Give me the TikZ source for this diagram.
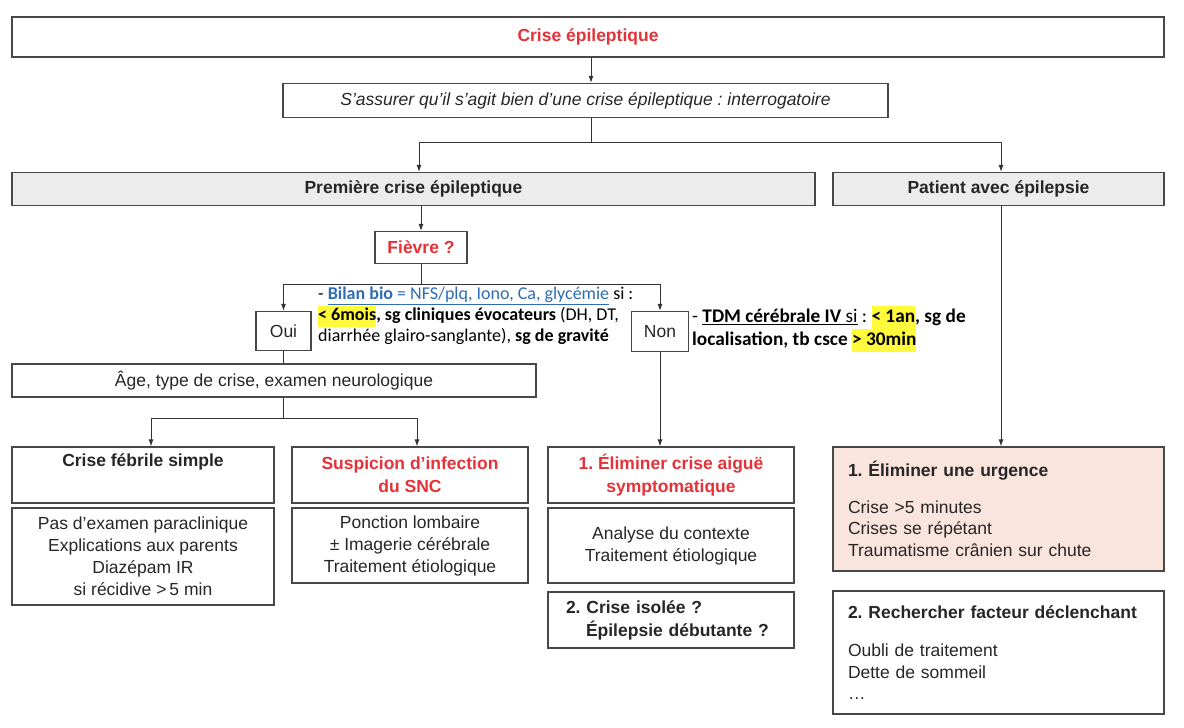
\documentclass[tikz,border=0pt]{standalone}
\usepackage{fontspec}
\setmainfont{Liberation Sans}
\newfontfamily\calib{Carlito}
\usetikzlibrary{arrows.meta}
\frenchspacing

\definecolor{redtxt}{RGB}{228,50,56}
\definecolor{hdrgray}{RGB}{236,236,236}
\definecolor{pinkfill}{RGB}{250,228,222}
\definecolor{boxline}{RGB}{72,72,72}
\definecolor{linkblue}{RGB}{46,108,180}
\definecolor{hilite}{RGB}{255,250,60}
\newcommand{\hl}[1]{{\setlength{\fboxsep}{0pt}\colorbox{hilite}{\strut #1}}}

\tikzset{
  box/.style={draw=boxline, line width=1.3pt, align=center, inner sep=0pt,
    font=\fontsize{17.5}{22}\selectfont, text=black!85},
  hdr/.style={box, fill=hdrgray, font=\bfseries\fontsize{17.5}{22}\selectfont},
  redt/.style={text=redtxt, font=\bfseries\fontsize{17.5}{23}\selectfont},
  line/.style={draw=black!80, line width=0.9pt},
  arr/.style={line, -{Latex[length=7pt,width=5pt]}},
}

\begin{document}
\begin{tikzpicture}[x=1pt,y=-1pt]
\useasboundingbox (0,0) rectangle (1184,728);

% boxes
\node[box, line width=2pt, redt, minimum width=1152, minimum height=40] (top) at (588,37) {Crise épileptique};
\node[box, font=\itshape\fontsize{17.5}{22}\selectfont, minimum width=605, minimum height=34] (assure) at (585.5,100.5) {S'assurer qu'il s'agit bien d'une crise épileptique : interrogatoire};
\node[hdr, minimum width=803, minimum height=33] (prem) at (413.5,189) {Première crise épileptique};
\node[hdr, minimum width=331, minimum height=33] (patient) at (998.5,189) {Patient avec épilepsie};
\node[box, redt, minimum width=92, minimum height=32] (fievre) at (421,247.5) {Fièvre ?};
\node[box, minimum width=55, minimum height=39] (oui) at (283.5,331) {Oui};
\node[box, minimum width=57, minimum height=40] (non) at (660,331.5) {Non};
\node[box, minimum width=524, minimum height=33] (age) at (274,380.5) {Âge, type de crise, examen neurologique};

\node[box, font=\bfseries\fontsize{17.5}{23}\selectfont, minimum width=262, minimum height=56] (cfs) at (143,475) {Crise fébrile simple\\\strut};
\node[box, minimum width=262, minimum height=97] (pas) at (143,556.5) {Pas d'examen paraclinique\\Explications aux parents\\Diazépam IR\\si récidive >\,5 min};
\node[box, redt, minimum width=236, minimum height=56] (susp) at (410,475) {Suspicion d'infection\\du SNC};
\node[box, minimum width=236, minimum height=75] (ponc) at (410,545.5) {Ponction lombaire\\± Imagerie cérébrale\\Traitement étiologique};
\node[box, redt, minimum width=246, minimum height=56] (elim) at (671,475) {1. Éliminer crise aiguë\\symptomatique};
\node[box, minimum width=246, minimum height=75] (anal) at (671,545.5) {Analyse du contexte\\Traitement étiologique};
\node[box, font=\bfseries\fontsize{17.5}{23}\selectfont, align=left, text width=210, minimum width=246, minimum height=56] (isol) at (671,620) {2. Crise isolée ?\\\hspace*{20pt}Épilepsie débutante ?};

\node[box, fill=pinkfill, align=left, text width=301, minimum width=331, minimum height=124, font=\fontsize{17.5}{21.5}\selectfont] (urg) at (998.5,509) {{\bfseries 1. Éliminer une urgence}\\[15pt]Crise >5 minutes\\Crises se répétant\\Traumatisme crânien sur chute};
\node[box, align=left, text width=301, minimum width=331, minimum height=123, font=\fontsize{17.5}{21.5}\selectfont] (rech) at (998.5,652.5) {{\bfseries 2. Rechercher facteur déclenchant}\\[17pt]Oubli de traitement\\Dette de sommeil\\\ldots};

% annotations
\node[anchor=north west, align=left, inner sep=0pt, font=\calib\fontsize{18}{21}\selectfont] (bilan) at (318,287) {- \textcolor{linkblue}{\underline{\textbf{Bilan bio} = NFS/plq, Iono, Ca, glycémie}} si :\\\hl{\textbf{< 6mois}}\textbf{, sg cliniques évocateurs} (DH, DT,\\diarrhée glairo-sanglante), \textbf{sg de gravité}};
\node[anchor=north west, align=left, inner sep=0pt, font=\calib\bfseries\fontsize{19.3}{23}\selectfont] (tdm) at (692,306) {{\mdseries -} \underline{TDM cérébrale IV {\mdseries si}}{\mdseries\ :} \hl{< 1an}, sg de\\localisation, tb csce \hl{> 30min}};

% connectors
\coordinate (j1) at (591,142);
\coordinate (jl) at (419,142);
\coordinate (jr) at (1001,142);
\coordinate (j2) at (421,284);
\coordinate (a1) at (151,418);
\coordinate (a2) at (417,418);
\draw[arr] (top.south -| j1) -- (assure.north -| j1);
\draw[line] (assure.south -| j1) -- (j1);
\draw[line] (jl) -- (jr);
\draw[arr] (jl) -- (jl |- prem.north);
\draw[arr] (jr) -- (jr |- patient.north);
\draw[arr] (fievre |- prem.south) -- (fievre.north);
\draw[line] (fievre) -- (j2);
\draw[arr] (j2) -| (oui.north);
\draw[arr] (j2) -| (non.north);
\draw[line] (oui) -- (oui |- age.north);
\draw[line] (oui |- age.south) -- (oui |- a1);
\draw[line] (a1) -- (a2);
\draw[arr] (a1) -- (a1 |- cfs.north);
\draw[arr] (a2) -- (a2 |- susp.north);
\draw[arr] (non) -- (non |- elim.north);
\draw[arr] (jr |- patient.south) -- (jr |- urg.north);
\end{tikzpicture}
\end{document}
